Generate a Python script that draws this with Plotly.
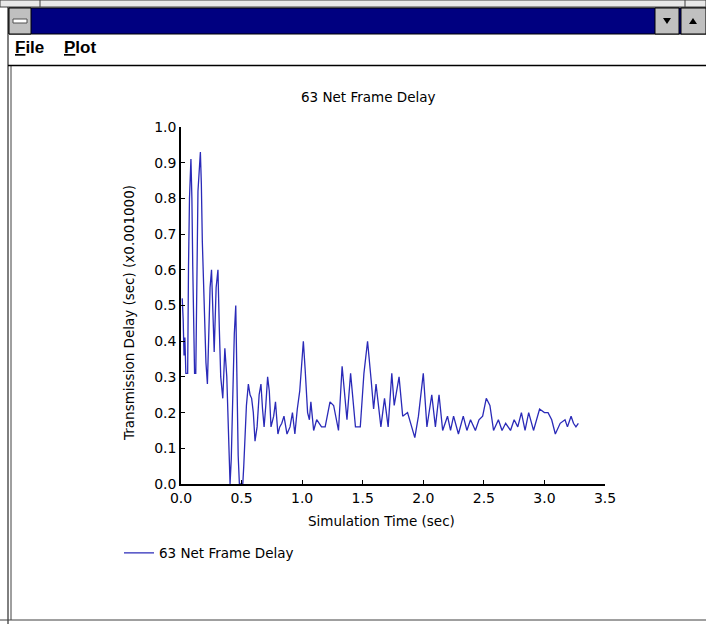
import plotly.graph_objects as go

W, H = 706, 624

# simulation time (sec) and transmission delay (sec, x0.001)
sim_time = [
    0.010, 0.018, 0.025, 0.032, 0.040, 0.055, 0.062, 0.070, 0.082, 0.090,
    0.097, 0.103, 0.112, 0.122, 0.130, 0.140, 0.160, 0.168, 0.176, 0.186,
    0.196, 0.206, 0.218, 0.228, 0.240, 0.252, 0.262, 0.274, 0.290, 0.305,
    0.316, 0.328, 0.345, 0.362, 0.378, 0.392, 0.405, 0.415, 0.428, 0.440,
    0.452, 0.462, 0.472, 0.482, 0.510, 0.518, 0.528, 0.540, 0.556, 0.570,
    0.583, 0.597, 0.611, 0.628, 0.645, 0.660, 0.673, 0.686, 0.700, 0.715,
    0.729, 0.743, 0.765, 0.780, 0.800, 0.815, 0.832, 0.850, 0.875, 0.900,
    0.920, 0.940, 0.960, 0.980, 0.995, 1.010, 1.025, 1.045, 1.060, 1.072,
    1.095, 1.120, 1.160, 1.190, 1.230, 1.260, 1.300, 1.330, 1.370, 1.400,
    1.440, 1.480, 1.510, 1.540, 1.570, 1.590, 1.610, 1.650, 1.680, 1.710,
    1.740, 1.760, 1.800, 1.830, 1.870, 1.930, 1.960, 2.000, 2.030, 2.070,
    2.100, 2.130, 2.160, 2.200, 2.225, 2.250, 2.290, 2.330, 2.360, 2.390,
    2.430, 2.460, 2.490, 2.520, 2.550, 2.580, 2.620, 2.650, 2.680, 2.720,
    2.750, 2.780, 2.810, 2.840, 2.870, 2.910, 2.960, 3.000, 3.030, 3.060,
    3.090, 3.130, 3.170, 3.190, 3.220, 3.240, 3.260, 3.280,
]
net_delay = [
    0.52, 0.46, 0.36, 0.41, 0.31, 0.31, 0.61, 0.80, 0.91, 0.80,
    0.61, 0.41, 0.31, 0.31, 0.61, 0.82, 0.93, 0.84, 0.68, 0.55,
    0.44, 0.34, 0.28, 0.44, 0.55, 0.60, 0.50, 0.37, 0.55, 0.60,
    0.44, 0.30, 0.24, 0.38, 0.30, 0.10, 0.00, 0.07, 0.25, 0.42,
    0.50, 0.25, 0.08, 0.00, 0.00, 0.05, 0.14, 0.22, 0.28, 0.25,
    0.24, 0.20, 0.12, 0.16, 0.25, 0.28, 0.21, 0.16, 0.22, 0.30,
    0.26, 0.16, 0.19, 0.23, 0.14, 0.16, 0.17, 0.19, 0.14, 0.16,
    0.20, 0.14, 0.21, 0.26, 0.33, 0.40, 0.32, 0.20, 0.18, 0.23,
    0.15, 0.18, 0.16, 0.16, 0.23, 0.22, 0.15, 0.33, 0.18, 0.31,
    0.16, 0.16, 0.31, 0.40, 0.29, 0.21, 0.28, 0.16, 0.24, 0.16,
    0.31, 0.22, 0.30, 0.19, 0.20, 0.13, 0.19, 0.31, 0.16, 0.25,
    0.16, 0.25, 0.15, 0.19, 0.15, 0.19, 0.14, 0.19, 0.15, 0.18,
    0.15, 0.18, 0.19, 0.24, 0.22, 0.15, 0.18, 0.15, 0.17, 0.15,
    0.18, 0.16, 0.20, 0.15, 0.20, 0.15, 0.21, 0.20, 0.20, 0.18,
    0.14, 0.17, 0.18, 0.16, 0.19, 0.17, 0.16, 0.17,
]
series_name = "63 Net Frame Delay"
x_ticks = [0.0, 0.5, 1.0, 1.5, 2.0, 2.5, 3.0, 3.5]
y_ticks = [0.0, 0.1, 0.2, 0.3, 0.4, 0.5, 0.6, 0.7, 0.8, 0.9, 1.0]


def px(x):
    return x / W


def py(y):
    return 1 - y / H


FONT = "DejaVu Sans"
LINE_BLUE = "#2a2ab8"

fig = go.Figure()
fig.add_trace(go.Scatter(
    x=sim_time, y=net_delay, mode="lines", name=series_name,
    line=dict(color=LINE_BLUE, width=1.3),
))

axis_common = dict(
    showline=True, linecolor="black", linewidth=1.5, showgrid=False,
    zeroline=False, ticks="inside", ticklen=4, tickcolor="black",
    tickfont=dict(family=FONT, size=14, color="black"),
    tickformat=".1f", fixedrange=True, automargin=False,
)
fig.update_xaxes(range=[0, 3.5], tickvals=x_ticks,
                 domain=[px(181), px(605)], **axis_common)
fig.update_yaxes(range=[0, 1.0], tickvals=y_ticks,
                 domain=[py(484), py(127)], **axis_common)

shapes = []
# outer frame
shapes.append(dict(type="rect", x0=px(0), x1=px(W), y0=py(0), y1=py(7),
                   fillcolor="#e8e8e8", line=dict(color="#404040", width=1)))
for xc in (40, 685):
    shapes.append(dict(type="line", x0=px(xc), x1=px(xc), y0=py(0), y1=py(7),
                       line=dict(color="#404040", width=1)))
shapes.append(dict(type="line", x0=px(8), x1=px(8), y0=py(7), y1=py(H),
                   line=dict(color="black", width=1)))
shapes.append(dict(type="line", x0=px(11), x1=px(11), y0=py(66), y1=py(620),
                   line=dict(color="#404040", width=1)))
shapes.append(dict(type="line", x0=px(0), x1=px(W), y0=py(620), y1=py(620),
                   line=dict(color="#404040", width=1)))
# title bar
shapes.append(dict(type="rect", x0=px(9), x1=px(W), y0=py(8), y1=py(34),
                   fillcolor="#000080", line=dict(color="black", width=1)))
# system menu box
shapes.append(dict(type="rect", x0=px(9), x1=px(31), y0=py(8), y1=py(34),
                   fillcolor="#c0c0c0", line=dict(color="black", width=1)))
shapes.append(dict(type="rect", x0=px(13), x1=px(27), y0=py(19), y1=py(23),
                   fillcolor="white", line=dict(color="#505050", width=1)))
# min / max buttons
for bx0, bx1 in ((655, 679), (681, W)):
    shapes.append(dict(type="rect", x0=px(bx0), x1=px(bx1), y0=py(8), y1=py(34),
                       fillcolor="#c0c0c0", line=dict(color="black", width=1)))
shapes.append(dict(type="path",
                   path=f"M {px(663)},{py(18)} L {px(671)},{py(18)} L {px(667)},{py(24)} Z",
                   fillcolor="black", line=dict(width=0)))
shapes.append(dict(type="path",
                   path=f"M {px(689)},{py(24)} L {px(697)},{py(24)} L {px(693)},{py(18)} Z",
                   fillcolor="black", line=dict(width=0)))
# menu bar underline
shapes.append(dict(type="line", x0=px(8), x1=px(W), y0=py(65.5), y1=py(65.5),
                   line=dict(color="black", width=1.5)))
for s in shapes:
    s.update(xref="paper", yref="paper")
fig.update_layout(shapes=shapes)

annotations = [
    dict(text="<b><u>F</u>ile</b>", x=px(13), y=py(48), xanchor="left", yanchor="middle",
         font=dict(family="Liberation Sans", size=17, color="black")),
    dict(text="<b><u>P</u>lot</b>", x=px(62), y=py(48), xanchor="left", yanchor="middle",
         font=dict(family="Liberation Sans", size=17, color="black")),
    dict(text=series_name, x=px(368), y=py(97), xanchor="center", yanchor="middle",
         font=dict(family=FONT, size=13.5, color="black")),
    dict(text="Simulation Time (sec)", x=px(381), y=py(521), xanchor="center",
         yanchor="middle", font=dict(family=FONT, size=13.5, color="black")),
    dict(text="Transmission Delay (sec) (x0.001000)", x=px(129), y=py(313),
         xanchor="center", yanchor="middle", textangle=-90,
         font=dict(family=FONT, size=13.5, color="black")),
]
for a in annotations:
    a.update(xref="paper", yref="paper", showarrow=False)
fig.update_layout(annotations=annotations)

fig.update_layout(
    width=W, height=H,
    margin=dict(l=0, r=0, t=0, b=0, autoexpand=False),
    paper_bgcolor="white", plot_bgcolor="white",
    showlegend=True,
    legend=dict(x=px(119), y=py(553), xanchor="left", yanchor="middle",
                bgcolor="rgba(0,0,0,0)", itemwidth=30,
                font=dict(family=FONT, size=13.5, color="black")),
)

fig.write_html(
    "out.html",
    config={"displayModeBar": False},
    post_script="document.body.style.margin='0';document.body.style.overflow='hidden';",
)
